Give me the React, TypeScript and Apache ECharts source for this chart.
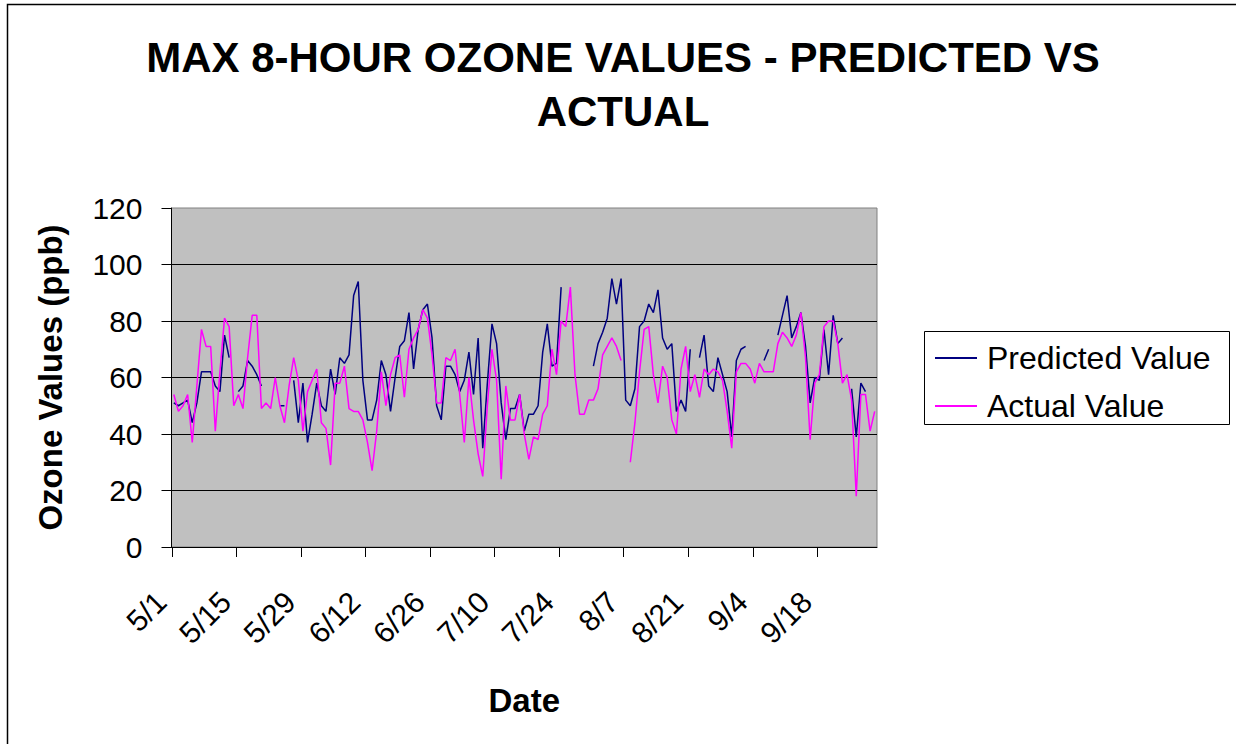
import React, { useEffect, useRef } from "react";
import * as echarts from "echarts";

const monthLengths: [number, number][] = [
  [5, 31],
  [6, 30],
  [7, 31],
  [8, 31],
  [9, 30],
];
const dates: string[] = monthLengths.flatMap(([m, n]) =>
  Array.from({ length: n }, (_, k) => `${m}/${k + 1}`)
);

const tickLabels = ["5/1", "5/15", "5/29", "6/12", "6/26", "7/10", "7/24", "8/7", "8/21", "9/4", "9/18"];

// Predicted value, 5/1 .. 9/30 (null = missing)
const predicted: (number | null)[] = [
  51, 50, 51, 52, 44, 51, 62, 62, 62, 57, 55, 75, 67, null, 55, 57, 66, 64, 61, 57,
  null, null, null, 50, 50, null, 59, 44, 58, 37, 47, 58, 50, 48, 63, 54, 67, 65, 68, 89,
  94, 59, 45, 45, 52, 66, 61, 48, 60, 71, 73, 83, 63, 77, 84, 86, 74, 50, 45, 64,
  64, 61, 55, 59, 69, 54, 74, 35, 58, 79, 72, 51, 38, 49, 49, 54, 41, 47, 47, 50,
  69, 79, 64, 65, 92, null, null, null, null, null, null, 64, 72, 76, 81, 95, 86, 95, 52, 50,
  56, 78, 80, 86, 83, 91, 74, 70, 72, 48, 52, 48, 70, null, 67, 75, 57, 55, 67, 61,
  55, 39, 66, 70, 71, null, null, null, 66, 70, null, 75, 82, 89, 74, 78, 83, 71, 51, 60,
  59, 77, 61, 82, 72, 74, null, 56, 39, 58, 55, null, null,
];

// Actual value, 5/1 .. 9/30 (null = missing)
const actual: (number | null)[] = [
  54, 48, 50, 54, 37, 57, 77, 71, 71, 41, 62, 81, 78, 50, 54, 49, 67, 82, 82, 49,
  51, 49, 60, 50, 44, 57, 67, 59, 41, 55, 59, 63, 44, 42, 29, 58, 58, 64, 49, 48,
  48, 45, 37, 27, 41, 62, 50, 61, 67, 68, 53, 70, 74, 77, 84, 81, 68, 51, 51, 67,
  66, 70, 54, 37, 60, 45, 33, 25, 50, 70, 59, 24, 57, 45, 45, 54, 40, 31, 39, 38,
  47, 50, 70, 61, 80, 78, 92, 61, 47, 47, 52, 52, 56, 68, 71, 74, 71, 66, null, 30,
  44, 62, 77, 78, 61, 51, 64, 60, 45, 40, 63, 71, 55, 61, 53, 63, 61, 63, 62, 59,
  48, 35, 62, 65, 65, 63, 58, 65, 62, 62, 62, 72, 76, 74, 71, 75, 83, 67, 38, 58,
  61, 78, 80, 80, 72, 58, 61, 52, 18, 54, 54, 41, 48,
];

const FONT = "'Liberation Sans', Arial, Helvetica, sans-serif";

export default function App() {
  const ref = useRef<HTMLDivElement>(null);

  useEffect(() => {
    if (!ref.current) return;
    const chart = echarts.init(ref.current, null, { renderer: "svg" });
    const gridLeft = 171.5;
    const gridTop = 208;
    const gridWidth = 705.5;
    const gridHeight = 339;

    chart.setOption({
      animation: false,
      backgroundColor: "#ffffff",
      textStyle: { fontFamily: FONT, color: "#000" },
      title: {
        text: "MAX 8-HOUR OZONE VALUES - PREDICTED VS\nACTUAL",
        left: 623,
        top: 30,
        padding: 0,
        textAlign: "center",
        textStyle: {
          fontFamily: FONT,
          fontSize: 42,
          fontWeight: "bold",
          color: "#000",
          lineHeight: 54,
        },
      },
      legend: {
        data: ["Predicted Value", "Actual Value"],
        orient: "vertical",
        left: 935,
        top: 342,
        padding: 0,
        icon: "rect",
        itemWidth: 42,
        itemHeight: 2,
        itemGap: 16,
        textStyle: {
          fontFamily: FONT,
          fontSize: 32,
          color: "#000",
          lineHeight: 32,
          padding: [0, 0, 0, 5],
        },
      },
      graphic: [
        {
          type: "rect",
          silent: true,
          shape: { x: 7.5, y: 4.5, width: 1300, height: 800 },
          style: { fill: "none", stroke: "#000", lineWidth: 1.5 },
        },
        {
          type: "rect",
          silent: true,
          shape: { x: 924.5, y: 331.5, width: 305, height: 93 },
          style: { fill: "none", stroke: "#000", lineWidth: 1 },
        },
      ],
      grid: {
        left: gridLeft,
        top: gridTop,
        width: gridWidth,
        height: gridHeight,
        show: true,
        backgroundColor: "#C0C0C0",
        borderColor: "#808080",
        borderWidth: 1,
      },
      xAxis: {
        type: "category",
        data: dates,
        boundaryGap: true,
        name: "Date",
        nameLocation: "middle",
        nameGap: 137,
        nameTextStyle: { fontFamily: FONT, fontSize: 33, fontWeight: "bold", color: "#000" },
        axisLine: { show: true, lineStyle: { color: "#000", width: 1 } },
        axisTick: { show: false },
        splitLine: { show: false },
        axisLabel: {
          interval: (_i: number, v: string) => tickLabels.includes(v),
          rotate: 45,
          margin: 37,
          padding: [0, 18, 0, 0],
          fontFamily: FONT,
          fontSize: 30,
          color: "#000",
        },
      },
      yAxis: {
        type: "value",
        min: 0,
        max: 120,
        interval: 20,
        name: "Ozone Values (ppb)",
        nameLocation: "middle",
        nameGap: 105,
        nameRotate: 90,
        nameTextStyle: { fontFamily: FONT, fontSize: 33, fontWeight: "bold", color: "#000" },
        axisLine: { show: true, lineStyle: { color: "#000", width: 1 } },
        axisTick: { show: true, length: 10, lineStyle: { color: "#000" } },
        axisLabel: { margin: 29, fontFamily: FONT, fontSize: 30, color: "#000" },
        splitLine: { show: true, showMaxLine: false, lineStyle: { color: "#000", width: 1 } },
      },
      series: [
        {
          name: "Predicted Value",
          type: "line",
          data: predicted,
          symbol: "none",
          connectNulls: false,
          lineStyle: { color: "#000080", width: 1.5 },
          itemStyle: { color: "#000080" },
        },
        {
          name: "Actual Value",
          type: "line",
          data: actual,
          symbol: "none",
          connectNulls: false,
          lineStyle: { color: "#FF00FF", width: 1.5 },
          itemStyle: { color: "#FF00FF" },
        },
        {
          name: "ticks",
          type: "custom",
          silent: true,
          clip: false,
          data: tickLabels.map((d) => [d, 0]),
          renderItem: (params: any, api: any) => {
            const pt = api.coord([api.value(0), 0]);
            const band = params.coordSys.width / dates.length;
            const x = Math.round(pt[0] - band / 2) + 0.5;
            const y = params.coordSys.y + params.coordSys.height;
            return {
              type: "line",
              shape: { x1: x, y1: y, x2: x, y2: y + 10 },
              style: { stroke: "#000", lineWidth: 1 },
            };
          },
        },
      ],
    });
    return () => chart.dispose();
  }, []);

  return (
    <div
      ref={ref}
      style={{ position: "fixed", left: 0, top: 0, width: 1236, height: 744 }}
    />
  );
}
